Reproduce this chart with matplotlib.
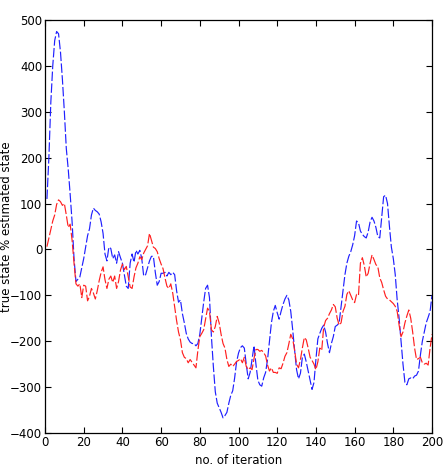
import numpy as np
import matplotlib
matplotlib.use("Agg")
import matplotlib.pyplot as plt

# iterations 1..200
iterations = np.arange(1, 201)

true_state = [
    110, 200, 320, 400, 455, 475, 470, 430, 370, 300,
    220, 175, 120, 60, -20, -70, -65, -60, -40, -20,
    5, 30, 45, 75, 90, 85, 82, 77, 60, 35,
    -10, -25, 5, 2, -20, -12, -30, -5, -18, -30,
    -55, -80, -85, -30, -10, -28, -2, -10, -2, -20,
    -58, -55, -40, -25, -15, -15, -50, -78, -70, -52,
    -52, -50, -58, -50, -55, -50, -55, -90, -115, -110,
    -140, -160, -183, -195, -202, -205, -205, -210, -205, -185,
    -150, -115, -85, -78, -105, -190, -255, -310, -335, -345,
    -355, -367, -362, -355, -335, -318, -308, -280, -245, -226,
    -214, -210, -215, -250, -282, -268, -240, -210, -250, -285,
    -295, -298, -280, -268, -240, -200, -160, -135, -122, -138,
    -152, -135, -120, -108, -100, -110, -135, -175, -220, -262,
    -282, -270, -235, -228, -245, -265, -285, -305, -290, -240,
    -195, -183, -172, -165, -180, -205, -225, -205, -190, -168,
    -165, -160, -125, -90, -55, -30, -15, -5, 10, 30,
    62, 58, 40, 33, 28, 25, 38, 60, 70, 62,
    48, 28, 25, 70, 115, 118, 100, 50, 5, -20,
    -55, -110, -150, -200, -250, -290, -295, -282, -280, -282,
    -276, -274, -265, -230, -200, -180, -160, -148, -135, -100,
]

estimated_state = [
    6, 25, 45, 62, 75, 98, 108, 104, 96, 100,
    75, 48, 55, 20, -30, -75, -80, -75, -105, -78,
    -80, -112, -102, -85, -95, -108, -90, -68, -50, -38,
    -66, -85, -65, -58, -72, -58, -85, -70, -45, -32,
    -44, -37, -60, -82, -85, -60, -40, -30, -16, -22,
    -8, 0, 8, 35, 20, 5, 2, -5, -20, -32,
    -42, -62, -80, -85, -75, -95, -125, -155, -180, -197,
    -225, -235, -238, -247, -240, -246, -252, -258, -220, -190,
    -183, -175, -152, -128, -135, -175, -180, -168, -146, -160,
    -185, -205, -215, -240, -255, -250, -255, -250, -244, -242,
    -238, -247, -235, -255, -262, -258, -262, -238, -218, -218,
    -222, -220, -225, -232, -252, -265, -258, -268, -268, -270,
    -258, -260, -248, -233, -225, -206, -185, -195, -220, -250,
    -258, -240, -215, -192, -197, -215, -235, -242, -250, -262,
    -245, -215, -220, -170, -155, -150, -140, -132, -120, -125,
    -150, -165, -160, -135, -124, -98, -90, -100, -110, -116,
    -98, -100, -30, -18, -35, -60, -52, -30, -12, -22,
    -33, -38, -62, -72, -88, -102, -108, -110, -114, -118,
    -124, -135, -165, -190, -180, -160, -145, -132, -150, -180,
    -215, -240, -238, -235, -247, -250, -248, -252, -215, -185,
]

x_ticks = np.arange(0, 201, 20)
y_ticks = np.arange(-400, 501, 100)

plt.rcParams["font.family"] = ["Liberation Sans Narrow", "DejaVu Sans"]

fig = plt.figure(figsize=(4.43, 4.69), dpi=100)
ax = fig.add_axes([0.1016, 0.0768, 0.8736, 0.8806])

ax.plot(iterations, true_state, color="#2020ff", linewidth=0.85,
        linestyle=(0, (8, 2)))
ax.plot(iterations, estimated_state, color="#ff2020", linewidth=0.85,
        linestyle=(0, (8, 2)))

ax.set_xlim(0, 200)
ax.set_ylim(-400, 500)
ax.set_xticks(x_ticks)
ax.set_yticks(y_ticks)
ax.tick_params(direction="in", top=True, right=True, length=4,
               width=0.8, labelsize=8.5, pad=2)
for s in ax.spines.values():
    s.set_linewidth(0.9)

ax.set_xlabel("no. of iteration", fontsize=8.5)
ax.xaxis.set_label_coords(0.5, -0.052)
ax.set_ylabel("true state % estimated state", fontsize=8.5)
ax.yaxis.set_label_coords(-0.082, 0.5)

fig.savefig("out.png", dpi=100)
